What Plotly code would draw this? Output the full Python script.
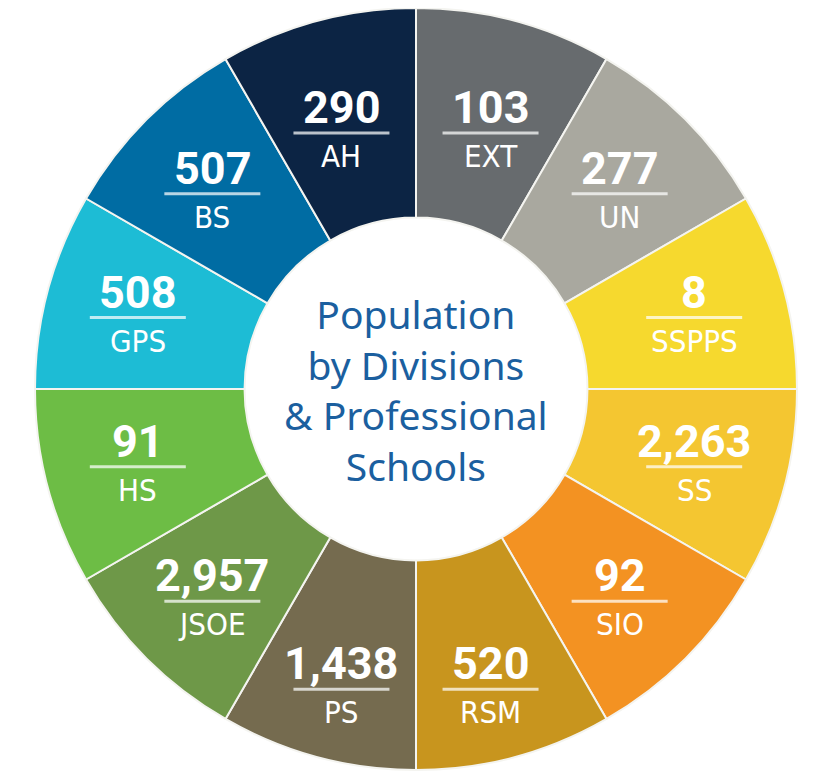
import math
import plotly.graph_objects as go

# Data (clockwise from 12 o'clock)
divisions = ["EXT", "UN", "SSPPS", "SS", "SIO", "RSM", "PS", "JSOE", "HS", "GPS", "BS", "AH"]
population = [103, 277, 8, 2263, 92, 520, 1438, 2957, 91, 508, 507, 290]
slice_share = [1, 1, 1, 1, 1, 1, 1, 1, 1, 1, 1, 1]  # equal wedges in the original design
colors = ["#676b6e", "#a9a89f", "#f6d92e", "#f4c631", "#f39222", "#c8951e",
          "#756b4f", "#6e9848", "#6dbd45", "#1dbcd5", "#006ca3", "#0c2444"]
center_title = ["Population", "by Divisions", "& Professional", "Schools"]

W, H = 820, 772
OFF = 8  # page body margin in the browser
CX, CY, R = 416 - OFF, 389 - OFF, 381  # pie geometry in figure pixels

fig = go.Figure(go.Pie(
    values=slice_share,
    labels=divisions,
    marker=dict(colors=colors, line=dict(color="#f4f4f0", width=2)),
    hole=0.45,
    sort=False,
    direction="clockwise",
    rotation=0,
    textinfo="none",
    hoverinfo="label",
    showlegend=False,
    domain=dict(x=[(CX - R) / W, (CX + R) / W],
                y=[max(0, 1 - (CY + R) / H), min(1, 1 - (CY - R) / H)]),
))

def px(x):
    return x / W

def py(y):
    return 1 - y / H

annotations = []
shapes = []
total = sum(slice_share)
acc = 0
for name, val, share in zip(divisions, population, slice_share):
    mid = acc + share / 2
    acc += share
    ang = math.radians(90 - 360 * mid / total)
    lx = CX + 288 * math.cos(ang)
    ly = CY - 288 * math.sin(ang) + 22 * abs(math.sin(ang)) ** 4 + 3
    annotations.append(dict(
        x=px(lx), y=py(ly + 3), xref="paper", yref="paper", xanchor="center", yanchor="bottom",
        text=f"<b>{val:,}</b>", showarrow=False,
        font=dict(family="Roboto", size=45, color="white")))
    annotations.append(dict(
        x=px(lx), y=py(ly + 3), xref="paper", yref="paper", xanchor="center", yanchor="top",
        text=name, showarrow=False,
        font=dict(family="DejaVu Sans Condensed, Liberation Sans Narrow, Open Sans", size=31, color="white")))
    shapes.append(dict(
        type="line", xref="paper", yref="paper",
        x0=px(lx - 48), x1=px(lx + 48), y0=py(ly), y1=py(ly),
        line=dict(color="rgba(255,255,255,0.72)", width=3)))

annotations.append(dict(
    x=px(CX), y=py(CY), xref="paper", yref="paper", xanchor="center", yanchor="middle",
    text="<br>".join(center_title), showarrow=False,
    font=dict(family="Noto Sans", size=39, color="#1b5f9f")))

fig.update_layout(
    width=W, height=H,
    margin=dict(l=0, r=0, t=0, b=0),
    paper_bgcolor="white", plot_bgcolor="white",
    annotations=annotations, shapes=shapes,
)

fig.write_html("out.html")
